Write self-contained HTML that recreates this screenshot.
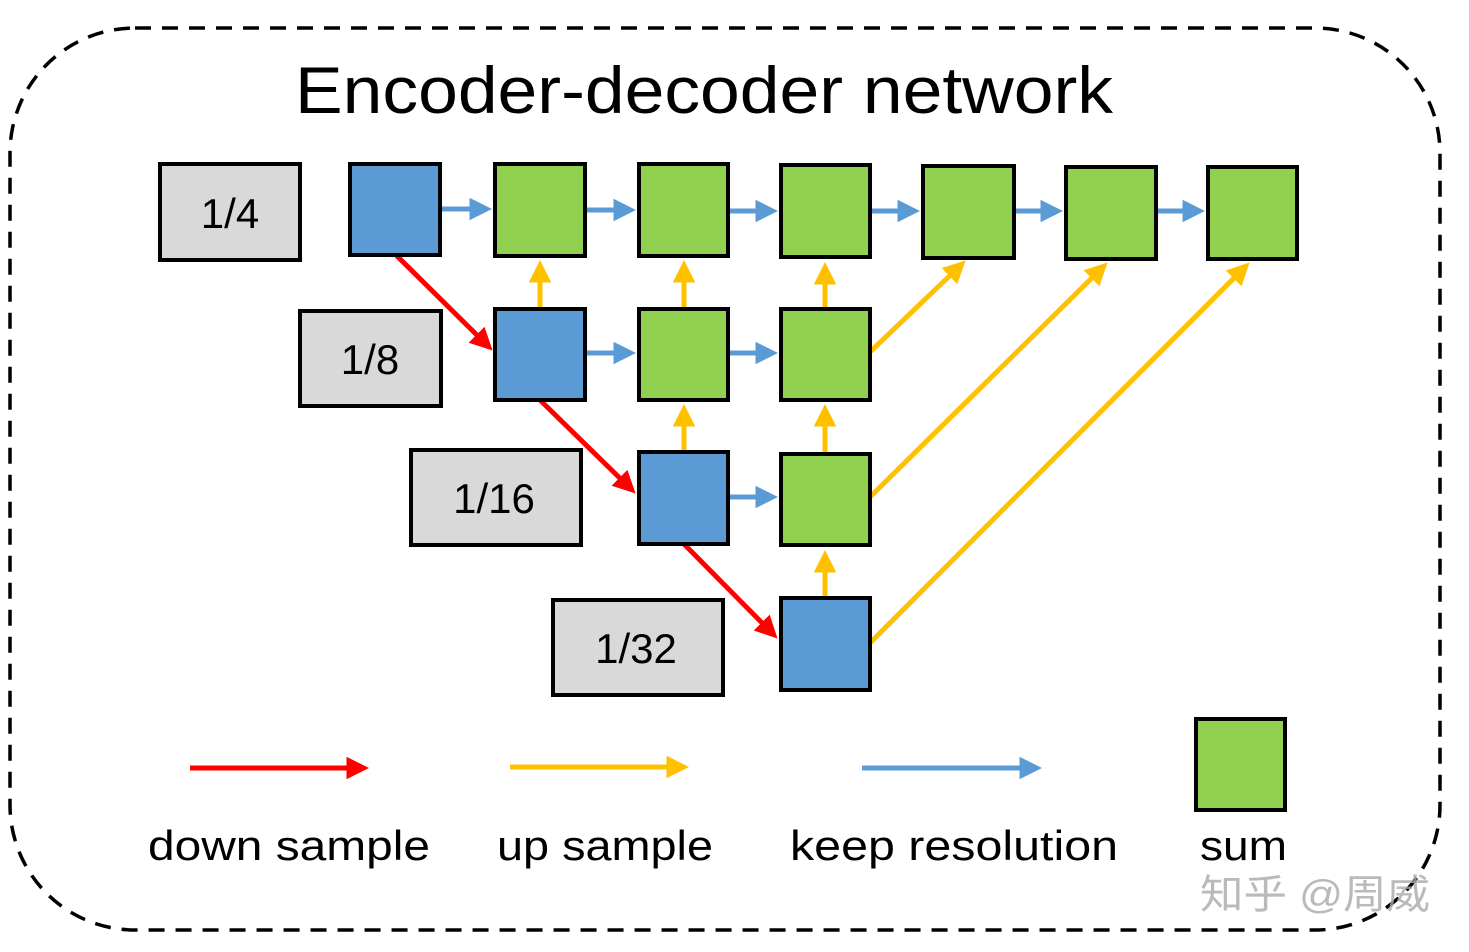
<!DOCTYPE html>
<html><head><meta charset="utf-8"><style>html,body{margin:0;padding:0;background:#fff}svg{display:block}</style></head>
<body>
<svg width="1469" height="952" viewBox="0 0 1469 952" xmlns="http://www.w3.org/2000/svg" font-family="Liberation Sans, sans-serif">
<defs>
<marker id="mb" markerWidth="4.5" markerHeight="4.5" refX="3.5" refY="2.25" orient="auto" markerUnits="strokeWidth"><path d="M0,0 L4.5,2.25 L0,4.5 z" fill="#5b9bd5"/></marker>
<marker id="my" markerWidth="4.5" markerHeight="4.5" refX="3.5" refY="2.25" orient="auto" markerUnits="strokeWidth"><path d="M0,0 L4.5,2.25 L0,4.5 z" fill="#ffc000"/></marker>
<marker id="mr" markerWidth="4.5" markerHeight="4.5" refX="3.5" refY="2.25" orient="auto" markerUnits="strokeWidth"><path d="M0,0 L4.5,2.25 L0,4.5 z" fill="#ff0000"/></marker>
</defs>
<rect x="10" y="28" width="1430" height="902" rx="125" fill="none" stroke="#000" stroke-width="3.5" stroke-dasharray="16,11"/>
<text x="295" y="113" font-size="66" textLength="818" lengthAdjust="spacingAndGlyphs" fill="#000">Encoder-decoder network</text>
<g fill="#d9d9d9" stroke="#000" stroke-width="4">
<rect x="160" y="164" width="140" height="96"/>
<rect x="300" y="311" width="141" height="95"/>
<rect x="411" y="450" width="170" height="95"/>
<rect x="553" y="600" width="170" height="95"/>
</g>
<g font-size="42" text-anchor="middle" fill="#000">
<text x="230" y="228">1/4</text>
<text x="370" y="374">1/8</text>
<text x="494" y="513">1/16</text>
<text x="636" y="663">1/32</text>
</g>
<g stroke-width="5" fill="none">
<g stroke="#5b9bd5" marker-end="url(#mb)">
<line x1="440" y1="209" x2="487" y2="209"/>
<line x1="585" y1="210" x2="631" y2="210"/>
<line x1="728" y1="211" x2="773" y2="211"/>
<line x1="870" y1="211" x2="915" y2="211"/>
<line x1="1014" y1="211" x2="1058" y2="211"/>
<line x1="1156" y1="211" x2="1200" y2="211"/>
<line x1="585" y1="353" x2="631" y2="353"/>
<line x1="728" y1="353" x2="773" y2="353"/>
<line x1="728" y1="497" x2="773" y2="497"/>
</g>
<g stroke="#ffc000" marker-end="url(#my)">
<line x1="540" y1="309" x2="540" y2="265"/>
<line x1="684" y1="309" x2="684" y2="265"/>
<line x1="825" y1="309" x2="825" y2="267"/>
<line x1="684" y1="452" x2="684" y2="409"/>
<line x1="825" y1="452" x2="825" y2="409"/>
<line x1="825" y1="598" x2="825" y2="555"/>
<line x1="870" y1="352" x2="962" y2="264"/>
<line x1="870" y1="497" x2="1104" y2="266"/>
<line x1="870" y1="643" x2="1246" y2="266"/>
</g>
<g stroke="#ff0000" marker-end="url(#mr)">
<line x1="396" y1="255" x2="489" y2="347"/>
<line x1="540" y1="400" x2="632" y2="490"/>
<line x1="683" y1="543" x2="774" y2="635"/>
</g>
<line x1="190" y1="768" x2="364" y2="768" stroke="#ff0000" marker-end="url(#mr)"/>
<line x1="510" y1="767" x2="684" y2="767" stroke="#ffc000" marker-end="url(#my)"/>
<line x1="862" y1="768" x2="1037" y2="768" stroke="#5b9bd5" marker-end="url(#mb)"/>
</g>
<g stroke="#000" stroke-width="4">
<rect x="350" y="164" width="90" height="91" fill="#5b9bd5"/>
<rect x="495" y="164" width="90" height="92" fill="#92d050"/>
<rect x="639" y="164" width="89" height="92" fill="#92d050"/>
<rect x="781" y="165" width="89" height="92" fill="#92d050"/>
<rect x="923" y="166" width="91" height="92" fill="#92d050"/>
<rect x="1066" y="167" width="90" height="92" fill="#92d050"/>
<rect x="1208" y="167" width="89" height="92" fill="#92d050"/>
<rect x="495" y="309" width="90" height="91" fill="#5b9bd5"/>
<rect x="639" y="309" width="89" height="91" fill="#92d050"/>
<rect x="781" y="309" width="89" height="91" fill="#92d050"/>
<rect x="639" y="452" width="89" height="92" fill="#5b9bd5"/>
<rect x="781" y="454" width="89" height="91" fill="#92d050"/>
<rect x="781" y="598" width="89" height="92" fill="#5b9bd5"/>
<rect x="1196" y="719" width="89" height="91" fill="#92d050"/>
</g>
<g font-size="42" fill="#000" lengthAdjust="spacingAndGlyphs">
<text x="148" y="860" textLength="282" lengthAdjust="spacingAndGlyphs">down sample</text>
<text x="497" y="860" textLength="216" lengthAdjust="spacingAndGlyphs">up sample</text>
<text x="790" y="860" textLength="328" lengthAdjust="spacingAndGlyphs">keep resolution</text>
<text x="1200" y="860" textLength="87" lengthAdjust="spacingAndGlyphs">sum</text>
</g>
<text x="1200" y="908" font-size="40" fill="#aaa" font-family="Liberation Sans, Noto Sans CJK SC, sans-serif" opacity="0.8" textLength="230" lengthAdjust="spacingAndGlyphs">知乎 @周威</text>
</svg>
</body></html>
